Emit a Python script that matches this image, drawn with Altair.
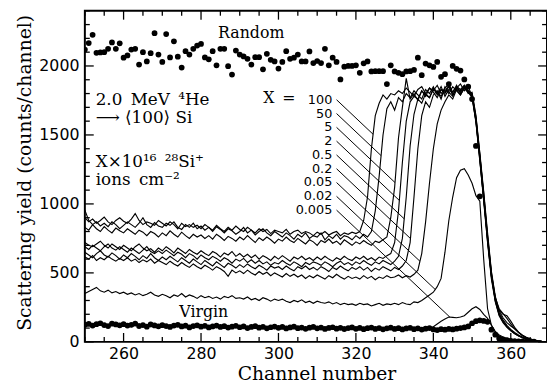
import altair as alt
import numpy as np
import pandas as pd

channels = list(range(250, 371))
doses = ["100", "50", "5", "2", "0.5", "0.2", "0.05", "0.02", "0.005"]

y_100 = [900, 870, 890, 860, 880, 905, 870, 850, 880, 900,
         875, 860, 890, 930, 880, 850, 870, 860, 845, 880,
         860, 840, 870, 850, 820, 860, 835, 850, 830, 845,
         820, 850, 830, 810, 845, 820, 800, 830, 810, 840,
         815, 800, 830, 810, 790, 820, 800, 815, 785, 810,
         800, 790, 815, 780, 800, 810, 785, 800, 790, 770,
         795, 780, 800, 775, 790, 800, 770, 790, 780, 795,
         785, 800, 880, 1050, 1400, 1640, 1730, 1790, 1760, 1800,
         1790, 1820, 1800, 1840, 1810, 1780, 1830, 1850, 1800, 1840,
         1820, 1860, 1800, 1840, 1870, 1810, 1850, 1830, 1860, 1820,
         1800, 1630, 1360, 1060, 750, 480, 300, 200, 150, 110,
         85, 62, 45, 32, 22, 15, 10, 6, 3, 1, 0]
y_50 = [955, 880, 850, 870, 840, 860, 835, 870, 850, 820,
        845, 870, 850, 830, 860, 900, 850, 830, 865, 840,
        830, 860, 845, 870, 830, 815, 850, 830, 860, 820,
        840, 810, 830, 800, 835, 815, 790, 820, 805, 780,
        800, 830, 790, 810, 775, 800, 820, 790, 770, 800,
        780, 760, 790, 770, 745, 780, 760, 790, 750, 770,
        760, 790, 740, 770, 750, 780, 745, 770, 760, 740,
        770, 750, 780, 760, 800, 950, 1200, 1500, 1690, 1740,
        1680, 1770, 1740, 1800, 1770, 1820, 1790, 1760, 1830, 1800,
        1850, 1790, 1830, 1810, 1850, 1790, 1840, 1870, 1820, 1850,
        1780, 1600, 1330, 1030, 730, 470, 310, 230, 200, 190,
        150, 105, 70, 45, 30, 20, 12, 7, 4, 2, 0]
y_5 = [830, 810, 850, 820, 800, 835, 810, 790, 825, 805,
       790, 820, 800, 780, 810, 795, 770, 800, 785, 760,
       790, 770, 805, 780, 760, 795, 770, 750, 780, 760,
       775, 750, 770, 745, 780, 760, 735, 765, 750, 730,
       760, 740, 770, 745, 720, 755, 735, 760, 740, 715,
       745, 730, 760, 735, 720, 750, 730, 710, 740, 725,
       700, 735, 720, 745, 715, 730, 705, 740, 720, 700,
       725, 710, 735, 715, 700, 730, 720, 740, 760, 900,
       1120, 1480, 1700, 1910, 1760, 1800, 1750, 1820, 1790, 1770,
       1840, 1810, 1780, 1830, 1800, 1850, 1820, 1790, 1840, 1810,
       1790, 1620, 1350, 1080, 770, 500, 320, 210, 160, 120,
       90, 68, 50, 36, 25, 16, 10, 6, 3, 1, 0]
y_2 = [720, 700, 690, 710, 730, 700, 680, 710, 690, 670,
       700, 680, 660, 690, 710, 680, 660, 675, 650, 680,
       660, 690, 670, 645, 680, 660, 640, 670, 650, 635,
       660, 640, 625, 655, 640, 615, 645, 630, 655, 620,
       640, 615, 635, 610, 630, 600, 625, 610, 590, 620,
       600, 625, 605, 585, 615, 600, 620, 595, 610, 590,
       615, 595, 620, 600, 585, 610, 595, 620, 600, 590,
       615, 600, 620, 595, 610, 590, 615, 605, 625, 640,
       720, 950, 1300, 1600, 1740, 1780, 1760, 1820, 1780, 1840,
       1810, 1770, 1830, 1800, 1860, 1790, 1840, 1810, 1850, 1800,
       1810, 1640, 1370, 1090, 790, 510, 330, 225, 175, 140,
       115, 95, 70, 48, 32, 20, 12, 7, 4, 2, 0]
y_05 = [690, 670, 700, 680, 660, 690, 710, 680, 665, 690,
        670, 650, 680, 660, 640, 665, 690, 655, 640, 660,
        640, 665, 645, 625, 650, 635, 610, 640, 625, 600,
        630, 610, 595, 620, 605, 585, 610, 595, 570, 600,
        585, 605, 575, 595, 570, 590, 565, 580, 555, 575,
        565, 590, 570, 555, 580, 565, 545, 575, 560, 580,
        570, 555, 580, 565, 545, 570, 585, 560, 575, 555,
        580, 565, 590, 570, 555, 580, 565, 590, 575, 560,
        585, 620, 750, 1050, 1420, 1650, 1760, 1730, 1800, 1770,
        1830, 1800, 1850, 1780, 1830, 1810, 1860, 1800, 1840, 1820,
        1790, 1610, 1340, 1050, 740, 470, 295, 195, 145, 110,
        82, 60, 44, 31, 21, 14, 9, 5, 3, 1, 0]
y_02 = [650, 630, 610, 640, 660, 630, 615, 645, 625, 600,
        630, 610, 640, 620, 595, 625, 605, 640, 610, 590,
        615, 595, 620, 600, 580, 610, 590, 570, 600, 580,
        560, 590, 570, 550, 580, 560, 540, 570, 555, 535,
        560, 540, 565, 545, 530, 555, 540, 520, 550, 535,
        545, 525, 550, 530, 515, 545, 530, 550, 525, 540,
        520, 545, 530, 510, 540, 525, 550, 530, 515, 540,
        525, 545, 520, 540, 510, 535, 520, 545, 530, 515,
        540, 525, 550, 590, 720, 1050, 1400, 1640, 1740, 1700,
        1790, 1820, 1760, 1850, 1810, 1780, 1840, 1820, 1860, 1810,
        1780, 1600, 1320, 1020, 720, 455, 290, 190, 140, 105,
        80, 58, 42, 30, 20, 13, 8, 5, 2, 1, 0]
y_005 = [615, 600, 625, 590, 610, 595, 620, 600, 585, 605,
         590, 610, 585, 600, 575, 595, 580, 600, 570, 590,
         575, 560, 585, 565, 550, 575, 555, 540, 565, 545,
         530, 555, 540, 520, 545, 530, 510, 475, 520, 500,
         515, 495, 520, 500, 485, 510, 490, 505, 480, 500,
         485, 470, 495, 475, 490, 470, 485, 460, 480, 465,
         485, 470, 455, 480, 465, 490, 470, 455, 475, 460,
         470, 455, 480, 460, 475, 450, 470, 460, 480, 465,
         470, 485, 465, 480, 470, 490, 520, 640, 870, 1150,
         1400, 1580, 1680, 1740, 1790, 1760, 1830, 1790, 1840, 1810,
         1770, 1590, 1310, 1040, 760, 490, 320, 240, 205, 170,
         130, 95, 68, 48, 33, 22, 14, 8, 4, 2, 0]
y_002 = [350, 365, 380, 395, 370, 360, 375, 355, 365, 350,
         360, 345, 355, 340, 350, 335, 345, 360, 340, 330,
         345, 335, 320, 340, 330, 350, 325, 340, 330, 315,
         335, 320, 330, 315, 325, 310, 330, 320, 335, 315,
         320, 310, 325, 305, 315, 300, 320, 310, 295, 310,
         300, 310, 295, 285, 300, 290, 305, 285, 295, 280,
         295, 285, 280, 290, 275, 285, 270, 280, 270, 275,
         265, 280, 270, 275, 260, 270, 280, 265, 275, 270,
         280, 270, 285, 275, 270, 290, 285, 300, 320, 340,
         360, 400, 460, 650, 880, 1050, 1190, 1245, 1255, 1210,
         1150, 1060, 1020, 600, 240, 120, 75, 50, 35, 25,
         18, 13, 9, 6, 4, 3, 2, 1, 0, 0, 0]
y_0005 = [120, 130, 115, 125, 135, 120, 115, 130, 120, 125,
          115, 125, 110, 120, 130, 115, 120, 110, 125, 115,
          110, 120, 115, 105, 120, 110, 115, 105, 118, 110,
          105, 115, 110, 100, 112, 105, 115, 100, 110, 105,
          112, 100, 108, 115, 100, 110, 105, 98, 110, 102,
          108, 100, 112, 98, 105, 110, 96, 104, 100, 108,
          98, 105, 100, 110, 95, 103, 100, 108, 96, 104,
          100, 95, 105, 98, 102, 95, 104, 97, 100, 95,
          102, 96, 100, 94, 103, 97, 100, 95, 100, 98,
          110, 130, 150, 165, 180, 178, 175, 180, 190, 215,
          240, 255, 235, 200, 170, 120, 70, 40, 25, 15,
          10, 7, 5, 3, 2, 1, 1, 0, 0, 0, 0]

random_channels = list(range(250, 353))
random_counts = [2119, 2166, 2226, 2095, 2098, 2100, 2124, 2171, 2124, 2164,
                 2060, 2076, 2119, 2124, 2010, 2100, 2033, 2093, 2238, 2083,
                 2029, 2231, 2062, 2179, 2067, 1988, 2107, 2083, 2124, 2148,
                 2160, 2062, 2048, 2107, 2005, 2124, 2124, 1998, 1938, 2112,
                 2083, 2069, 2052, 2010, 2064, 2064, 1976, 2088, 2045, 2033,
                 1981, 2029, 2107, 2052, 2060, 2083, 2033, 2033, 2105, 2021,
                 2036, 2021, 2124, 2005, 2060, 2029, 1902, 1995, 2000, 2000,
                 2005, 1950, 2019, 2033, 1960, 1962, 1962, 1962, 1869, 2005,
                 1960, 1950, 1940, 1960, 1962, 1971, 2060, 1933, 2017, 2005,
                 1993, 2029, 1921, 1940, 1869, 2000, 1979, 1967, 1902,
                 1850, 1760, 1420, 1055]

virgin_channels = list(range(250, 367))
virgin_counts = [125, 130, 118, 128, 135, 122, 115, 132, 126, 120,
                 128, 118, 124, 133, 115, 122, 110, 126, 119, 113,
                 121, 115, 108, 118, 124, 112, 117, 105, 115, 120,
                 110, 116, 105, 112, 118, 108, 114, 104, 110, 116,
                 106, 112, 100, 108, 114, 103, 109, 98, 106, 111,
                 102, 108, 97, 105, 110, 99, 104, 95, 103, 108,
                 98, 104, 94, 101, 106, 96, 102, 93, 100, 105,
                 95, 101, 92, 99, 104, 94, 100, 91, 98, 103,
                 94, 99, 90, 97, 102, 92, 98, 89, 96, 100,
                 90, 86, 92, 88, 94, 90, 96, 100, 105, 112,
                 135, 150, 156, 152, 145, 88, 52, 25, 18, 12,
                 8, 6, 4, 3, 2, 1, 1]

label_yields = [1755, 1655, 1555, 1455, 1355, 1255, 1155, 1055, 955]
x_ticks_major = [260, 280, 300, 320, 340, 360]
y_ticks_major = [0, 500, 1000, 1500, 2000]

series = dict(zip(doses, [y_100, y_50, y_5, y_2, y_05, y_02, y_005, y_002, y_0005]))

rows = []
for d, vals in series.items():
    for c, v in zip(channels, vals):
        rows.append({"ch": c, "val": v, "dose": d})
lines_df = pd.DataFrame(rows)

# leader lines from each label down to its curve (constant slope)
k = 26.5
x0 = 315.0
chs = np.array(channels, float)
lead_rows = []
for d, y0 in zip(doses, label_yields):
    vals = np.array(series[d], float)
    L = y0 - k * (chs - x0)
    idx = int(np.where((chs > x0) & (vals >= L))[0][0])
    i0 = idx - 1
    t = (L[i0] - vals[i0]) / ((vals[idx] - vals[i0]) + k)
    xe = chs[i0] + t
    ye = y0 - k * (xe - x0)
    lead_rows.append({"ch": x0, "val": y0, "dose": d})
    lead_rows.append({"ch": float(xe), "val": float(ye), "dose": d})
lead_df = pd.DataFrame(lead_rows)

random_df = pd.DataFrame({"ch": random_channels, "val": random_counts})
virgin_df = pd.DataFrame({"ch": virgin_channels, "val": virgin_counts})

dose_lab_df = pd.DataFrame({"ch": [313.9] * len(doses), "val": label_yields, "txt": doses})

serif_df = pd.DataFrame({
    "ch": [252.8, 252.8, 252.8, 252.8, 284.4, 274.4, 296.05],
    "val": [1719, 1588, 1266, 1136, 2202, 183, 1731],
    "txt": ["2.0\u2002MeV\u2002\u2074He", "\u27f6 \u27e8100\u27e9 Si",
            "X\u00d710\u00b9\u2076\u2002\u00b2\u2078Si\u207a", "ions\u2002cm\u207b\u00b2",
            "Random", "Virgin", "X"],
    "fs": [17, 17, 17, 17, 16, 16, 16],
})
eq_df = pd.DataFrame({"ch": [302.7], "val": [1731], "txt": ["="]})

xt = list(range(250, 370, 5))
xtick_df = pd.DataFrame({"ch": xt, "major": [c % 20 == 0 for c in xt]})
yt = list(range(0, 2401, 100))
ytick_df = pd.DataFrame({"val": yt, "major": [v % 500 == 0 for v in yt]})

W, H = 469, 336
xs = alt.Scale(domain=[250, 369.35], nice=False, zero=False)
ys = alt.Scale(domain=[0, 2400], nice=False, zero=False)
xaxis = alt.Axis(values=x_ticks_major, format="d", title="Channel number", domain=False,
                 ticks=False, tickSize=0, grid=False, labelFont="DejaVu Sans", labelFontSize=16,
                 labelColor="black", labelPadding=4, labelFlush=False,
                 titleFont="DejaVu Serif", titleFontSize=19, titleFontWeight="normal",
                 titleColor="black", titleX=235, titleY=32, titleBaseline="middle",
                 titleAlign="center")
yaxis = alt.Axis(values=y_ticks_major, format="d", title="Scattering yield (counts/channel)",
                 domain=False, ticks=False, tickSize=0, grid=False, labelFont="DejaVu Sans",
                 labelFontSize=16, labelColor="black", labelPadding=6, labelFlush=False,
                 titleFont="DejaVu Serif", titleFontSize=19, titleFontWeight="normal",
                 titleColor="black", titleX=-61, titleY=164, titleBaseline="middle",
                 titleAlign="center", titleAngle=270)

X = alt.X("ch:Q", scale=xs, axis=xaxis)
Y = alt.Y("val:Q", scale=ys, axis=yaxis)

layers = []
for maj, ln in [(True, 9), (False, 5)]:
    xd = xtick_df[xtick_df["major"] == maj]
    yd = ytick_df[ytick_df["major"] == maj]
    layers.append(alt.Chart(xd).mark_rule(color="black", strokeWidth=1.3).encode(
        x=X, y=alt.value(H), y2=alt.value(H - ln)))
    layers.append(alt.Chart(xd).mark_rule(color="black", strokeWidth=1.3).encode(
        x=X, y=alt.value(0), y2=alt.value(ln)))
    layers.append(alt.Chart(yd).mark_rule(color="black", strokeWidth=1.3).encode(
        y=Y, x=alt.value(0), x2=alt.value(ln)))
    layers.append(alt.Chart(yd).mark_rule(color="black", strokeWidth=1.3).encode(
        y=Y, x=alt.value(W), x2=alt.value(W - ln)))

layers.append(alt.Chart(lines_df).mark_line(color="black", strokeWidth=1.15, clip=True).encode(
    x=X, y=Y, detail="dose:N"))
layers.append(alt.Chart(lead_df).mark_line(color="black", strokeWidth=1.0).encode(
    x=X, y=Y, detail="dose:N"))
layers.append(alt.Chart(random_df).mark_circle(color="black", size=34, opacity=1, clip=True).encode(
    x=X, y=Y))
layers.append(alt.Chart(virgin_df).mark_circle(color="black", size=34, opacity=1, clip=True).encode(
    x=X, y=Y))
layers.append(alt.Chart(dose_lab_df).mark_text(align="right", baseline="middle", font="DejaVu Sans",
                                                fontSize=13, color="black").encode(
    x=X, y=Y, text="txt:N"))
layers.append(alt.Chart(serif_df).mark_text(align="left", baseline="alphabetic", font="DejaVu Serif",
                                             color="black").encode(
    x=X, y=Y, text="txt:N", size=alt.Size("fs:Q", scale=None, legend=None)))
layers.append(alt.Chart(eq_df).mark_text(align="center", baseline="alphabetic", font="DejaVu Serif",
                                          fontSize=16, color="black").encode(
    x=X, y=Y, text="txt:N"))

chart = alt.layer(*layers).properties(
    width=W, height=H,
    autosize=alt.AutoSizeParams(type="none"),
    padding={"left": 78, "top": 0, "right": 0, "bottom": 45},
    background="white",
).configure_view(stroke="black", strokeWidth=2)

chart.save("out.html", embed_options={"renderer": "svg", "actions": False})
